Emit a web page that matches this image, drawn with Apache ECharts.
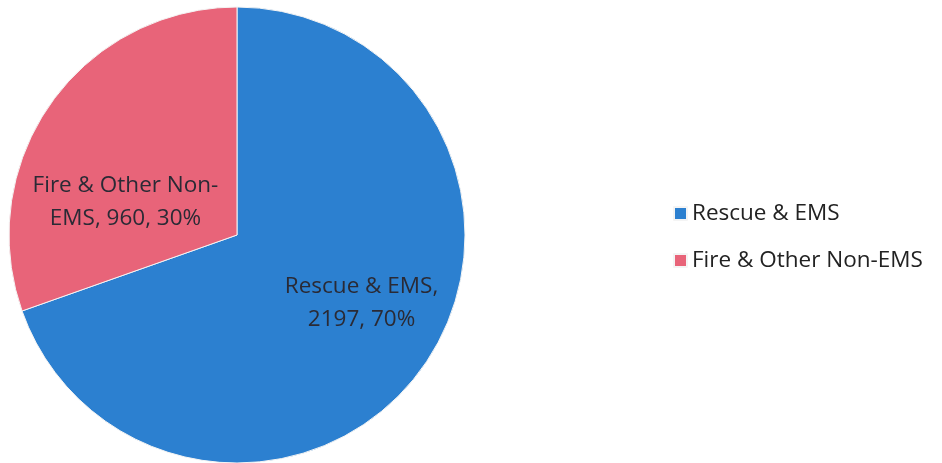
<!DOCTYPE html>
<html>
<head>
<meta charset="utf-8">
<script src="https://cdn.jsdelivr.net/npm/echarts@6/dist/echarts.min.js"></script>
<style>html,body{margin:0;padding:0;background:#fff}#c{width:942px;height:463px}</style>
</head>
<body>
<div id="c"></div>
<script>
const categories = ['Rescue & EMS', 'Fire & Other Non-EMS'];
const values = [2197, 960];
const labelLines = [
  ['Rescue & EMS,', '{c}, {d}%'],
  ['Fire & Other Non-', 'EMS, {c}, {d}%']
];
const colors = ['#2c80d0', '#e86479'];
const labelOffsets = [[29, 1], [-16, 35]];

const chart = echarts.init(document.getElementById('c'));
chart.setOption({
  animation: false,
  backgroundColor: '#fff',
  legend: {
    orient: 'vertical',
    left: 668,
    top: 197,
    itemWidth: 13,
    itemHeight: 13,
    itemGap: 24,
    icon: 'rect',
    textStyle: { fontFamily: 'Open Sans', fontSize: 22.5, color: '#222' },
    data: categories
  },
  series: [{
    type: 'pie',
    center: [237, 235],
    radius: [0, 228],
    startAngle: 90,
    clockwise: true,
    percentPrecision: 0,
    itemStyle: { borderColor: '#f4f4f4', borderWidth: 1 },
    label: {
      show: true,
      position: 'inner',
      fontFamily: 'Open Sans',
      fontSize: 22.5,
      lineHeight: 33,
      color: '#2a2a35',
      align: 'center'
    },
    labelLine: { show: false },
    emphasis: { disabled: true },
    data: categories.map((n, i) => ({
      name: n,
      value: values[i],
      itemStyle: { color: colors[i] },
      label: {
        formatter: labelLines[i].join('\n'),
        offset: labelOffsets[i]
      }
    }))
  }]
});
</script>
</body>
</html>
